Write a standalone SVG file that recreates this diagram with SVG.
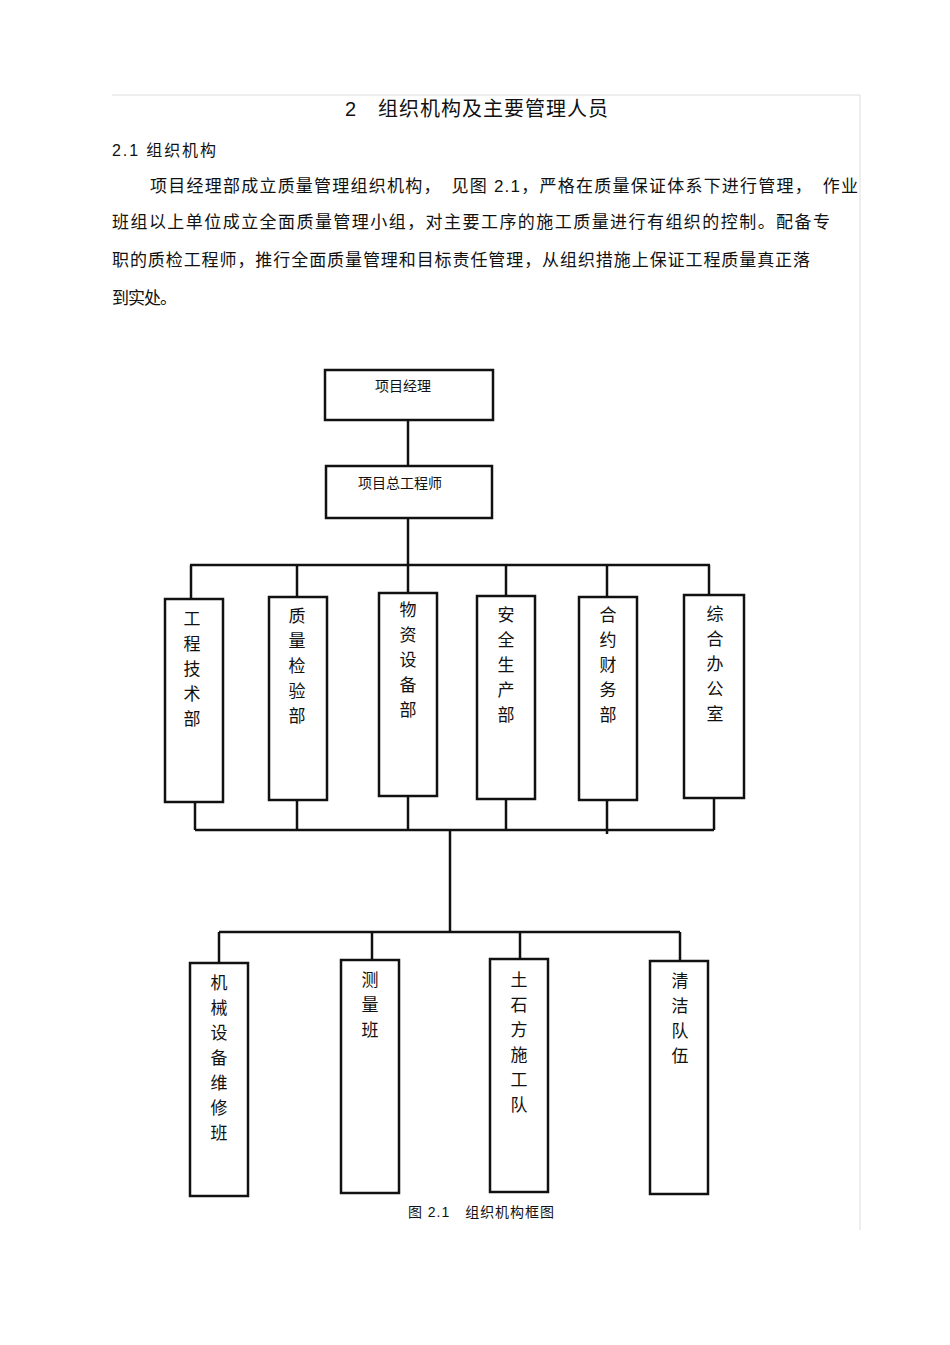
<svg xmlns="http://www.w3.org/2000/svg" width="950" height="1345" viewBox="0 0 950 1345">
<style>
text{font-family:"Liberation Sans","Noto Sans CJK SC",sans-serif;fill:#111}
.b{fill:#fff;stroke:#111;stroke-width:2.5}
.c line{stroke:#111;stroke-width:2.5}
.v{font-size:17px;text-anchor:middle}
.p{font-size:17px}
</style>
<rect width="950" height="1345" fill="#fff"/>
<line x1="112" y1="95" x2="860" y2="95" stroke="#ddd"/>
<line x1="860" y1="95" x2="860" y2="1230" stroke="#ddd"/>
<text x="345" y="116" font-size="20" textLength="263" lengthAdjust="spacing">2　组织机构及主要管理人员</text>
<text x="112" y="156" font-size="16" textLength="104" lengthAdjust="spacing">2.1 组织机构</text>
<text class="p" x="150" y="192" textLength="708" lengthAdjust="spacing">项目经理部成立质量管理组织机构，　见图 2.1，严格在质量保证体系下进行管理，　作业</text>
<text class="p" x="112" y="228" textLength="718" lengthAdjust="spacing">班组以上单位成立全面质量管理小组，对主要工序的施工质量进行有组织的控制。配备专</text>
<text class="p" x="112" y="266" textLength="698" lengthAdjust="spacing">职的质检工程师，推行全面质量管理和目标责任管理，从组织措施上保证工程质量真正落</text>
<text class="p" x="112" y="304" textLength="65" lengthAdjust="spacing">到实处。</text>
<g class="c" id="connectors">
<line x1="408" y1="420" x2="408" y2="466"/>
<line x1="408" y1="518" x2="408" y2="565"/>
<line x1="190" y1="565" x2="710" y2="565" stroke-width="3"/>
<line x1="191" y1="565" x2="191" y2="599"/>
<line x1="297" y1="565" x2="297" y2="597"/>
<line x1="408" y1="565" x2="408" y2="593"/>
<line x1="506" y1="565" x2="506" y2="596"/>
<line x1="607" y1="565" x2="607" y2="597"/>
<line x1="709" y1="565" x2="709" y2="595"/>
<line x1="195" y1="802" x2="195" y2="830"/>
<line x1="297" y1="800" x2="297" y2="830"/>
<line x1="408" y1="796" x2="408" y2="830"/>
<line x1="506" y1="799" x2="506" y2="830"/>
<line x1="607" y1="800" x2="607" y2="834"/>
<line x1="714" y1="798" x2="714" y2="830"/>
<line x1="195" y1="830" x2="714" y2="830"/>
<line x1="450" y1="830" x2="450" y2="932"/>
<line x1="219" y1="932" x2="680" y2="932"/>
<line x1="219" y1="932" x2="219" y2="963"/>
<line x1="372" y1="932" x2="372" y2="960"/>
<line x1="520" y1="932" x2="520" y2="959"/>
<line x1="680" y1="932" x2="680" y2="961"/>
</g>
<g id="n1"><rect class="b" x="325" y="370" width="168" height="50"/><text x="375" y="391" font-size="14">项目经理</text></g>
<g id="n2"><rect class="b" x="326" y="466" width="166" height="52"/><text x="358" y="488" font-size="14">项目总工程师</text></g>
<g id="n3"><rect class="b" x="165" y="599" width="58" height="203"/><text class="v" x="192"><tspan x="192" y="625">工</tspan><tspan x="192" y="650">程</tspan><tspan x="192" y="675">技</tspan><tspan x="192" y="700">术</tspan><tspan x="192" y="725">部</tspan></text></g>
<g id="n4"><rect class="b" x="269" y="597" width="58" height="203"/><text class="v"><tspan x="297" y="622">质</tspan><tspan x="297" y="647">量</tspan><tspan x="297" y="672">检</tspan><tspan x="297" y="697">验</tspan><tspan x="297" y="722">部</tspan></text></g>
<g id="n5"><rect class="b" x="379" y="593" width="58" height="203"/><text class="v"><tspan x="408" y="616">物</tspan><tspan x="408" y="641">资</tspan><tspan x="408" y="666">设</tspan><tspan x="408" y="691">备</tspan><tspan x="408" y="716">部</tspan></text></g>
<g id="n6"><rect class="b" x="477" y="596" width="58" height="203"/><text class="v"><tspan x="506" y="621">安</tspan><tspan x="506" y="646">全</tspan><tspan x="506" y="671">生</tspan><tspan x="506" y="696">产</tspan><tspan x="506" y="721">部</tspan></text></g>
<g id="n7"><rect class="b" x="579" y="597" width="58" height="203"/><text class="v"><tspan x="608" y="621">合</tspan><tspan x="608" y="646">约</tspan><tspan x="608" y="671">财</tspan><tspan x="608" y="696">务</tspan><tspan x="608" y="721">部</tspan></text></g>
<g id="n8"><rect class="b" x="684" y="595" width="60" height="203"/><text class="v"><tspan x="715" y="620">综</tspan><tspan x="715" y="645">合</tspan><tspan x="715" y="670">办</tspan><tspan x="715" y="695">公</tspan><tspan x="715" y="720">室</tspan></text></g>
<g id="n9"><rect class="b" x="190" y="963" width="58" height="233"/><text class="v"><tspan x="219" y="989">机</tspan><tspan x="219" y="1014">械</tspan><tspan x="219" y="1039">设</tspan><tspan x="219" y="1064">备</tspan><tspan x="219" y="1089">维</tspan><tspan x="219" y="1114">修</tspan><tspan x="219" y="1139">班</tspan></text></g>
<g id="n10"><rect class="b" x="341" y="960" width="58" height="233"/><text class="v"><tspan x="370" y="986">测</tspan><tspan x="370" y="1011">量</tspan><tspan x="370" y="1036">班</tspan></text></g>
<g id="n11"><rect class="b" x="490" y="959" width="58" height="233"/><text class="v"><tspan x="519" y="986">土</tspan><tspan x="519" y="1011">石</tspan><tspan x="519" y="1036">方</tspan><tspan x="519" y="1061">施</tspan><tspan x="519" y="1086">工</tspan><tspan x="519" y="1111">队</tspan></text></g>
<g id="n12"><rect class="b" x="650" y="961" width="58" height="233"/><text class="v"><tspan x="680" y="987">清</tspan><tspan x="680" y="1012">洁</tspan><tspan x="680" y="1037">队</tspan><tspan x="680" y="1062">伍</tspan></text></g>
<text x="408" y="1217" font-size="14" textLength="146" lengthAdjust="spacing">图 2.1　组织机构框图</text>
</svg>
